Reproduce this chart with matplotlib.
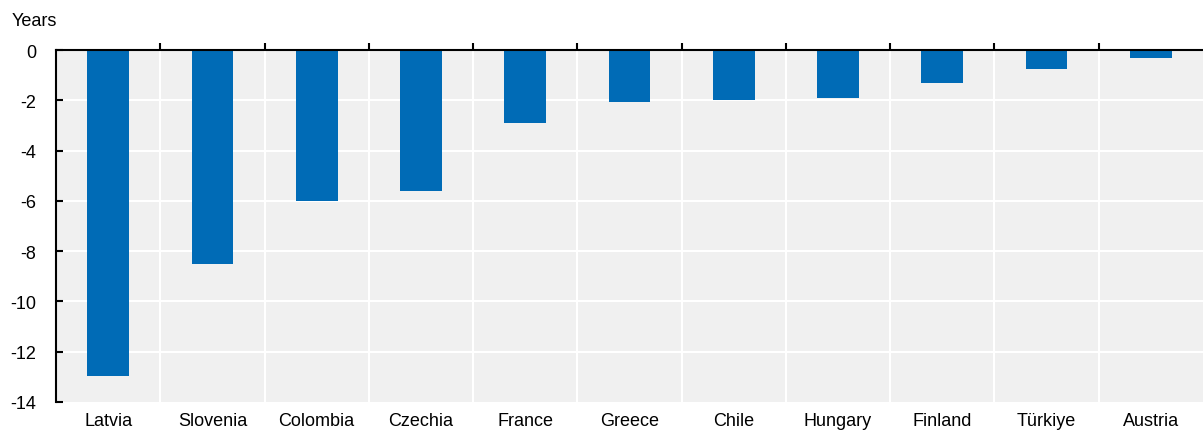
import numpy as np
import matplotlib as mpl
from matplotlib import pyplot as plt

# data
countries = ['Latvia', 'Slovenia', 'Colombia', 'Czechia', 'France', 'Greece',
             'Chile', 'Hungary', 'Finland', 'Türkiye', 'Austria']
values = [-12.95, -8.5, -6.0, -5.6, -2.9, -2.05, -2.0, -1.9, -1.3, -0.75, -0.3]
yticks = [0, -2, -4, -6, -8, -10, -12, -14]

mpl.rcParams['font.family'] = ['Liberation Sans', 'DejaVu Sans']
mpl.rcParams['font.size'] = 13

barColor = '#006BB6'
bgColor = '#F0F0F0'

f = plt.figure(figsize = (12.03, 4.31), dpi = 100)
ax1 = f.add_axes([56 / 1203, 1 - 403 / 431, 1 - 56 / 1203, (403 - 51) / 431])
ax1.set_facecolor(bgColor)

x = np.arange(len(countries))
ax1.bar(x, values, width = 0.4, color = barColor, zorder = 3)

ax1.set_xlim(-0.5, len(countries) - 0.5)
ax1.set_ylim(-14, 0)

# grid
for yv in yticks[1:-1]:
    ax1.axhline(yv, color = 'white', lw = 1.5, zorder = 1)
for xv in np.arange(0.5, len(countries) - 0.5, 1.0):
    ax1.axvline(xv, color = 'white', lw = 1.5, zorder = 1)

# spines
for s in ['right', 'bottom']:
    ax1.spines[s].set_visible(False)
ax1.spines['top'].set_linewidth(1.5)
ax1.spines['left'].set_linewidth(1.5)
ax1.spines['top'].set_zorder(5)

ax1.set_yticks(yticks)
ax1.set_yticklabels([str(v) for v in yticks])
ax1.tick_params(axis = 'y', direction = 'in', length = 5, width = 1.5, pad = 14)

# x labels at the bottom, boundary ticks at the top
ax1.set_xticks(x)
ax1.set_xticklabels(countries)
ax1.tick_params(axis = 'x', which = 'major', length = 0, pad = 7)
ax1.set_xticks(np.arange(0.5, len(countries) - 0.5, 1.0), minor = True)
ax1.tick_params(axis = 'x', which = 'minor', top = True, bottom = False,
                direction = 'out', length = 5, width = 1.5)

f.text(12 / 1203, 1 - 22 / 431, 'Years', ha = 'left', va = 'center', fontsize = 13)

f.savefig('out.png', dpi = 100)
